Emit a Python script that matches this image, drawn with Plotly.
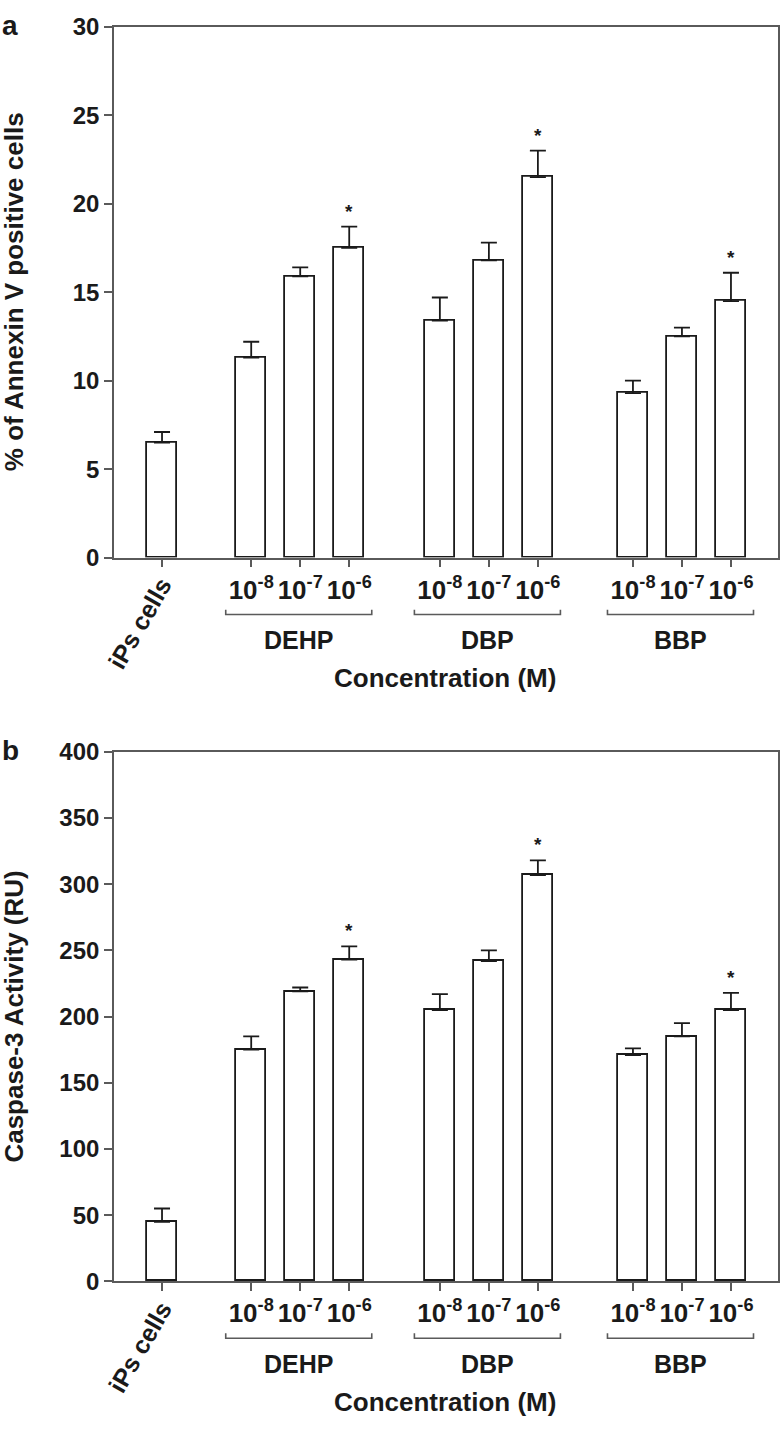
import plotly.graph_objects as go

W, H = 781, 1441

# ---------------- data ----------------
control_label = "iPs cells"
groups = ["DEHP", "DBP", "BBP"]
conc_labels = ["10<sup>-8</sup>", "10<sup>-7</sup>", "10<sup>-6</sup>"]

annexin_mean = [6.5, 11.3, 15.9, 17.5, 13.4, 16.8, 21.5, 9.3, 12.5, 14.5]
annexin_err = [0.6, 0.9, 0.5, 1.2, 1.3, 1.0, 1.5, 0.7, 0.5, 1.6]

caspase_mean = [45, 175, 219, 243, 205, 242, 307, 171, 185, 205]
caspase_err = [10, 10, 3, 10, 12, 8, 11, 5, 10, 13]

significant = [False, False, False, True, False, False, True, False, False, True]

# ---------------- layout helpers ----------------
FONT = "Liberation Sans, Arial, Helvetica, sans-serif"
INK = "#1a1a1a"
AXC = "#5a5a5a"

group_starts = [1.82, 5.67, 9.61]
positions = [0.0] + [s + i for s in group_starts for i in range(len(conc_labels))]
tick_text = [""] + conc_labels * len(groups)


def px(x):
    return x / W


def py(y):
    return 1 - y / H


panels = [
    dict(mean=annexin_mean, err=annexin_err, top=13, bottom=554, rng=[0, 30], dtick=5,
         title="% of Annexin V positive cells", letter="a", xa="x", ya="y"),
    dict(mean=caspase_mean, err=caspase_err, top=752, bottom=1291.5, rng=[0, 400], dtick=50,
         title="Caspase-3 Activity (RU)", letter="b", xa="x2", ya="y2"),
]

fig = go.Figure()
annotations = []
shapes = []
layout_axes = {}

for k, p in enumerate(panels):
    xa, ya = p["xa"], p["ya"]
    fig.add_trace(go.Bar(
        x=positions, y=p["mean"], width=0.61,
        marker=dict(color="white", line=dict(color=INK, width=1.8)),
        error_y=dict(type="data", symmetric=False, array=p["err"],
                     arrayminus=[0] * len(p["err"]), color=INK, thickness=1.8, width=8),
        xaxis=xa, yaxis=ya, showlegend=False, hoverinfo="skip",
    ))
    xkey = "xaxis" if k == 0 else "xaxis2"
    ykey = "yaxis" if k == 0 else "yaxis2"
    layout_axes[xkey] = dict(
        domain=[px(114), px(778)], range=[-0.98, 12.57], anchor=ya,
        tickmode="array", tickvals=positions, ticktext=tick_text,
        ticks="outside", ticklen=8, tickwidth=1.5, tickcolor=AXC,
        showline=True, linecolor=AXC, linewidth=1.6, mirror=True,
        showgrid=False, zeroline=False,
        tickfont=dict(family=FONT, size=26, color=INK),
    )
    layout_axes[ykey] = dict(
        domain=[py(p["bottom"]), py(p["top"])], range=p["rng"], anchor=xa,
        dtick=p["dtick"], tick0=0, ticksuffix="\u2002",
        ticks="outside", ticklen=8, tickwidth=1.5, tickcolor=AXC,
        showline=True, linecolor=AXC, linewidth=1.6, mirror=True,
        showgrid=False, zeroline=False,
        tickfont=dict(family=FONT, size=24, color=INK),
    )

    base = p["bottom"]
    # significance stars
    for xi, m, e, s in zip(positions, p["mean"], p["err"], significant):
        if s:
            annotations.append(dict(x=xi, y=m + e, xref=xa, yref=ya, text="<b>*</b>",
                                    showarrow=False, yanchor="bottom", yshift=3,
                                    font=dict(family=FONT, size=19, color=INK)))
    # group brackets and labels
    for g, s in zip(groups, group_starts):
        x0 = s - 0.52
        x1 = s + len(conc_labels) - 1 + 0.46
        yl = py(base + 58)
        ye = py(base + 53)
        shapes.append(dict(type="path", xref=xa, yref="paper",
                           path=f"M {x0},{ye} L {x0},{yl} L {x1},{yl} L {x1},{ye}",
                           line=dict(color=AXC, width=1.6)))
        annotations.append(dict(x=(x0 + x1) / 2, y=py(base + 84), xref=xa, yref="paper",
                                text=f"<b>{g}</b>", showarrow=False, xanchor="center", yanchor="middle",
                                font=dict(family=FONT, size=25, color=INK)))
    # control label (rotated)
    annotations.append(dict(x=px(140), y=py(base + 67), xref="paper", yref="paper",
                            text=f"<b>{control_label}</b>", textangle=-60, showarrow=False,
                            xanchor="center", yanchor="middle",
                            font=dict(family=FONT, size=25, color=INK)))
    # x title
    annotations.append(dict(x=px(445), y=py(base + 123), xref="paper", yref="paper",
                            text="<b>Concentration (M)</b>", showarrow=False,
                            xanchor="center", yanchor="middle",
                            font=dict(family=FONT, size=26, color=INK)))
    # y title
    annotations.append(dict(x=px(14), y=py((p["top"] + p["bottom"]) / 2), xref="paper", yref="paper",
                            text=f"<b>{p['title']}</b>", textangle=-90, showarrow=False,
                            xanchor="center", yanchor="middle",
                            font=dict(family=FONT, size=26, color=INK)))
    # panel letter
    annotations.append(dict(x=px(10), y=py(p["top"] - 1), xref="paper", yref="paper",
                            text=f"<b>{p['letter']}</b>", showarrow=False,
                            xanchor="center", yanchor="middle",
                            font=dict(family=FONT, size=28, color=INK)))

# bold tick labels
for key, ax in layout_axes.items():
    if key.startswith("x"):
        ax["ticktext"] = [f"<b>{t}</b>" if t else "" for t in ax["ticktext"]]
    else:
        top = ax["range"][1]
        vals = list(range(0, top + 1, ax["dtick"]))
        ax["tickmode"] = "array"
        ax["tickvals"] = vals
        ax["ticktext"] = [f"<b>{v}</b>" for v in vals]

fig.update_layout(
    width=W, height=H, margin=dict(l=0, r=0, t=0, b=0),
    paper_bgcolor="white", plot_bgcolor="white",
    annotations=annotations, shapes=shapes, bargap=0,
    **layout_axes,
)

fig.write_html("out.html", config={"displayModeBar": False},
               post_script="document.body.style.margin='0';")
